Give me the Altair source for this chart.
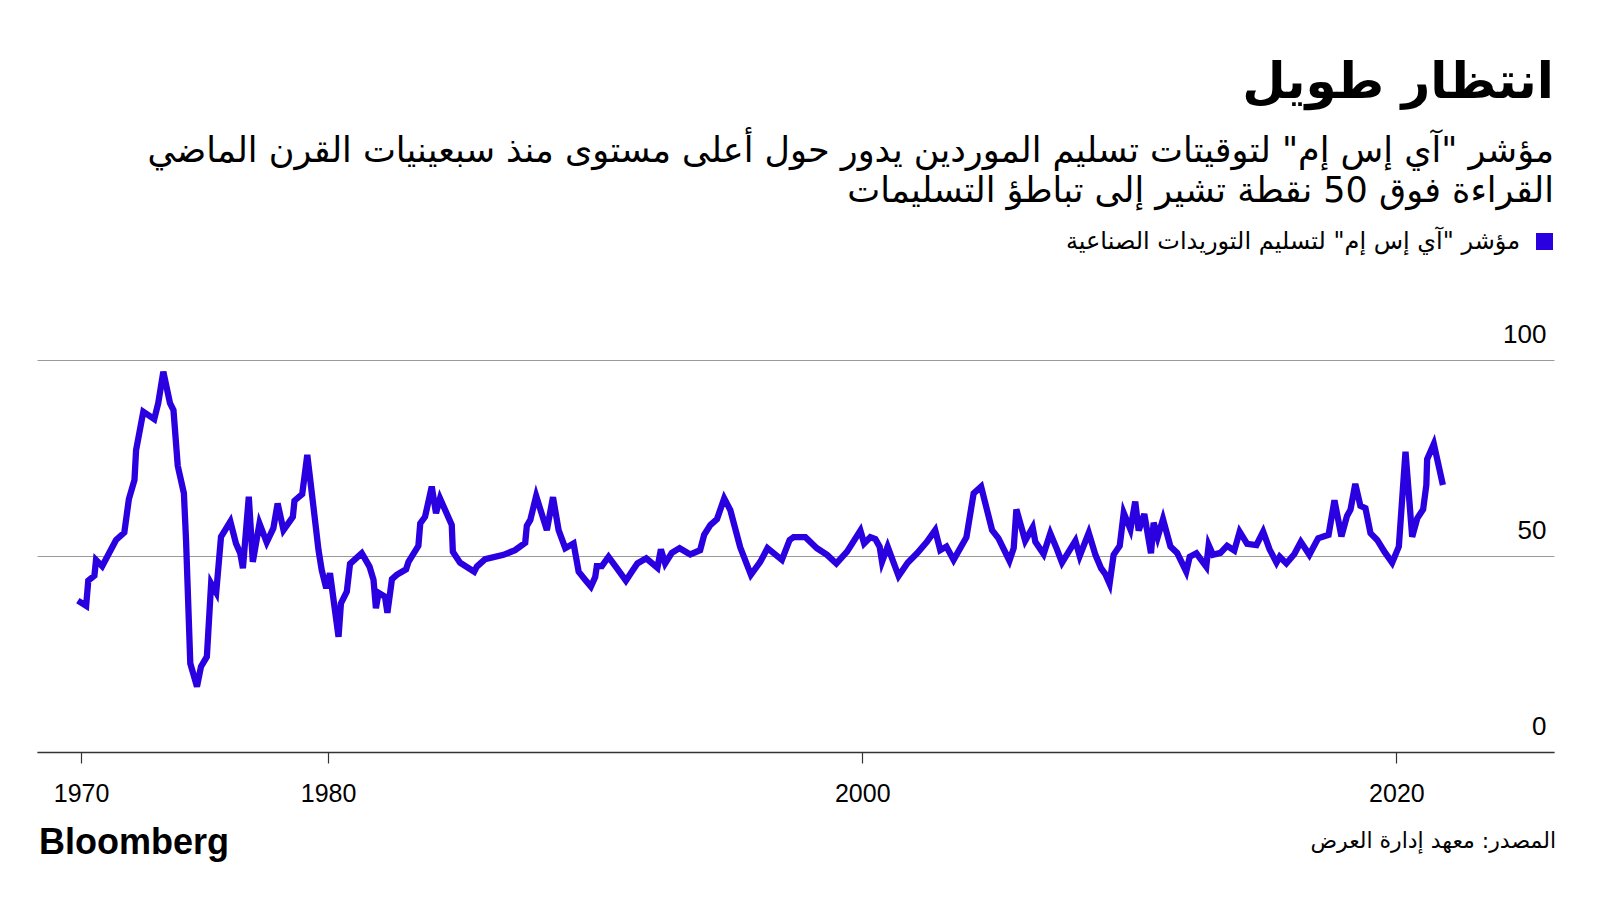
import json
import altair as alt
import pandas as pd

# ---------------- data ----------------
years = [1970.63, 1970.94, 1971.02, 1971.25, 1971.31, 1971.54, 1972.06, 1972.37, 1972.54, 1972.75,
         1972.81, 1973.08, 1973.49, 1973.64, 1973.83, 1974.08, 1974.21, 1974.37, 1974.60, 1974.68,
         1974.84, 1975.09, 1975.24, 1975.46, 1975.62, 1975.81, 1975.99, 1976.34, 1976.55, 1976.71,
         1976.81, 1977.03, 1977.18, 1977.43, 1977.70, 1977.95, 1978.11, 1978.33, 1978.68, 1978.74,
         1979.03, 1979.22, 1979.45, 1979.64, 1979.76, 1979.93, 1980.07, 1980.39, 1980.48, 1980.70,
         1980.82, 1981.26, 1981.55, 1981.70, 1981.79, 1981.89, 1982.13, 1982.22, 1982.39, 1982.57,
         1982.92, 1983.01, 1983.38, 1983.45, 1983.63, 1983.88, 1984.04, 1984.19, 1984.63, 1984.67,
         1984.94, 1985.47, 1985.57, 1985.88, 1986.57, 1987.00, 1987.38, 1987.44, 1987.57, 1987.79,
         1988.19, 1988.42, 1988.63, 1988.88, 1989.19, 1989.38, 1989.63, 1989.84, 1990.00, 1990.06,
         1990.25, 1990.50, 1990.81, 1991.15, 1991.37, 1991.58, 1991.91, 1992.33, 1992.46, 1992.62,
         1992.87, 1993.16, 1993.56, 1993.93, 1994.08, 1994.31, 1994.56, 1994.83, 1995.06, 1995.43,
         1995.83, 1996.18, 1996.45, 1996.99, 1997.28, 1997.43, 1997.87, 1998.30, 1998.68, 1999.03,
         1999.43, 1999.93, 2000.07, 2000.30, 2000.49, 2000.65, 2000.74, 2000.95, 2001.36, 2001.70,
         2002.05, 2002.42, 2002.73, 2002.92, 2003.15, 2003.42, 2003.90, 2004.17, 2004.45, 2004.86,
         2005.10, 2005.51, 2005.67, 2005.77, 2006.10, 2006.38, 2006.48, 2006.79, 2007.04, 2007.29,
         2007.48, 2007.98, 2008.14, 2008.48, 2008.73, 2008.94, 2009.10, 2009.26, 2009.41, 2009.64,
         2009.79, 2010.04, 2010.22, 2010.35, 2010.56, 2010.81, 2010.91, 2011.06, 2011.26, 2011.54,
         2011.79, 2012.13, 2012.26, 2012.51, 2012.88, 2012.97, 2013.13, 2013.41, 2013.66, 2013.93,
         2014.13, 2014.41, 2014.76, 2015.01, 2015.25, 2015.51, 2015.63, 2015.88, 2016.18, 2016.42,
         2016.74, 2017.07, 2017.46, 2017.68, 2017.94, 2018.15, 2018.28, 2018.46, 2018.65, 2018.84,
         2019.03, 2019.28, 2019.55, 2019.84, 2020.09, 2020.34, 2020.59, 2020.78, 2021.00, 2021.12,
         2021.15, 2021.40, 2021.74]

values = [38.6, 37.3, 43.7, 45.0, 49.0, 47.4, 54.1, 56.0, 64.5, 69.4,
          77.0, 86.8, 84.9, 89.0, 97.0, 89.0, 87.2, 73.0, 66.0, 54.1,
          22.6, 16.7, 21.8, 24.3, 43.0, 40.7, 54.9, 58.8, 53.2, 50.7,
          46.9, 65.1, 48.5, 58.3, 53.5, 57.1, 63.4, 56.6, 60.0, 64.1,
          65.8, 75.8, 62.6, 51.5, 46.4, 41.8, 45.6, 29.4, 37.9, 40.9,
          48.0, 50.7, 47.3, 43.9, 36.7, 40.6, 39.6, 35.5, 44.1, 45.2,
          46.6, 48.5, 52.6, 58.3, 60.0, 67.7, 60.9, 64.7, 57.9, 51.1,
          48.3, 46.0, 47.3, 49.2, 50.3, 51.5, 53.4, 57.7, 59.2, 65.3,
          56.6, 65.0, 56.6, 52.0, 53.2, 46.0, 43.9, 42.2, 44.6, 47.4,
          47.4, 49.8, 46.9, 43.7, 46.0, 48.1, 49.4, 47.0, 51.7, 48.1,
          50.8, 52.0, 50.4, 51.5, 55.4, 57.9, 59.4, 64.7, 61.7, 52.2,
          45.2, 48.5, 52.0, 49.0, 54.1, 54.8, 54.8, 52.0, 50.3, 48.1,
          51.1, 56.5, 53.2, 54.8, 54.3, 52.4, 48.5, 52.4, 44.9, 48.3,
          50.7, 53.6, 56.6, 51.5, 52.4, 49.0, 54.8, 66.0, 67.7, 56.6,
          54.5, 48.8, 52.0, 61.9, 53.9, 57.3, 53.6, 50.5, 55.8, 51.7,
          48.3, 53.9, 50.0, 55.9, 50.3, 46.9, 45.4, 42.9, 50.3, 52.6,
          61.0, 56.8, 63.9, 56.5, 60.7, 50.7, 58.5, 54.8, 59.4, 52.4,
          50.8, 46.0, 49.8, 50.7, 47.3, 52.8, 50.3, 50.8, 52.6, 51.4,
          56.2, 53.1, 52.8, 56.2, 51.7, 48.3, 49.8, 48.1, 50.5, 53.6,
          50.3, 54.5, 55.4, 64.2, 55.0, 60.2, 61.8, 68.4, 62.8, 62.2,
          55.8, 54.1, 51.1, 48.3, 52.4, 76.6, 54.9, 59.6, 61.9, 68.1,
          74.7, 78.6, 68.1]

x_tick_values = [1970.75, 1980, 2000, 2020]
x_tick_labels = ["1970", "1980", "2000", "2020"]
y_tick_values = [0, 50, 100]

title_text = "انتظار طويل"
subtitle_lines = [
    'مؤشر "آي إس إم" لتوقيتات تسليم الموردين يدور حول أعلى مستوى منذ سبعينيات القرن الماضي',
    "القراءة فوق 50 نقطة تشير إلى تباطؤ التسليمات",
]
legend_text = 'مؤشر "آي إس إم"  لتسليم التوريدات الصناعية'
source_text = "المصدر: معهد إدارة العرض"
brand_text = "Bloomberg"

# ---------------- styling ----------------
BLUE = "#2a00e0"
W, H = 1517, 392
AR_FONT = "DejaVu Sans"
LAT_FONT = "Liberation Sans"

df = pd.DataFrame({"year": years, "value": values})

label_map = json.dumps({str(v): l for v, l in zip(x_tick_values, x_tick_labels)})
label_expr = f"{label_map}[toString(datum.value)]"

line = alt.Chart(df).mark_line(color=BLUE, strokeWidth=6.3).encode(
    x=alt.X(
        "year:Q",
        scale=alt.Scale(domain=[1969.1, 2025.9], nice=False, zero=False),
        axis=alt.Axis(
            values=x_tick_values, labelExpr=label_expr, title=None, grid=False,
            tickSize=11, tickColor="#333", tickWidth=1.2, domainColor="#333", domainWidth=1.5,
            labelFontSize=25, labelFont=LAT_FONT, labelColor="#000", labelPadding=18,
            labelFlush=False, labelOverlap=False, zindex=1,
        ),
    ),
    y=alt.Y(
        "value:Q",
        scale=alt.Scale(domain=[0, 100], nice=False),
        axis=alt.Axis(
            orient="right", values=y_tick_values, title=None, grid=True,
            gridColor="#9a9a9a", gridWidth=1, ticks=False, domain=False,
            labelAlign="right", labelBaseline="alphabetic", labelPadding=-8,
            labelOffset=-18, labelFontSize=26, labelFont=LAT_FONT, labelColor="#000",
        ),
    ),
)


def text_layer(txt, x, y, size, align, font, weight="normal"):
    return alt.Chart(pd.DataFrame({"t": [txt]})).mark_text(
        align=align, baseline="alphabetic", fontSize=size, font=font,
        fontWeight=weight, color="#000",
    ).encode(text="t:N", x=alt.value(x), y=alt.value(y))


title = text_layer(title_text, W, -262, 50, "right", AR_FONT, "bold")
sub1 = text_layer(subtitle_lines[0], W, -198, 35, "right", AR_FONT)
sub2 = text_layer(subtitle_lines[1], W, -158, 35, "right", AR_FONT)
leg_txt = text_layer(legend_text, 1483, -111, 24, "right", AR_FONT)
leg_box = alt.Chart(pd.DataFrame({"s": [legend_text]})).mark_rect(color=BLUE).encode(
    x=alt.value(1499), x2=alt.value(1516), y=alt.value(-127), y2=alt.value(-110)
)
brand = text_layer(brand_text, 2, 494, 36, "left", LAT_FONT, "bold")
source = text_layer(source_text, 1519, 488, 22, "right", AR_FONT)

chart = alt.layer(line, title, sub1, sub2, leg_box, leg_txt, brand, source).properties(
    width=W, height=H,
    autosize=alt.AutoSizeParams(type="none"),
    padding={"left": 29, "top": 352, "right": 38, "bottom": 140},
    background="white",
).configure_view(stroke=None)

chart.save("out.html", embed_options={"renderer": "svg", "actions": False})
